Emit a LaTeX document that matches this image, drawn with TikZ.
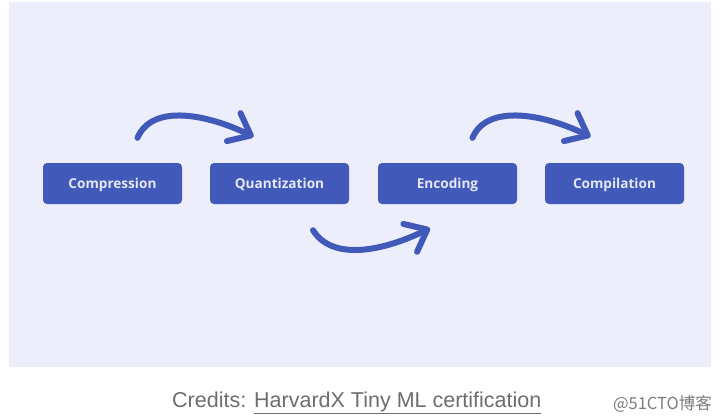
\documentclass[tikz,border=0pt]{standalone}
\usepackage{fontspec}
\setmainfont{Open Sans}
\newfontfamily\capfont{Liberation Sans}
\newfontfamily\cjk{Noto Sans CJK SC}
\usetikzlibrary{arrows.meta}
\definecolor{panelbg}{HTML}{ECEEFB}
\definecolor{stageblue}{HTML}{4159B8}
\definecolor{creditgray}{HTML}{6E6E6E}

\begin{document}
\begin{tikzpicture}[x=1pt,y=-1pt,
    stage/.style={fill=stageblue,rounded corners=4pt,minimum width=139pt,minimum height=41pt,
        text height=10pt,text depth=0pt,
        text=white!86!stageblue,font=\bfseries\fontsize{13.6}{15}\selectfont},
    flow/.style={draw=stageblue,line width=6pt,line cap=round,
        -{Straight Barb[length=19pt,width=31pt,round]}}]
        \useasboundingbox (0,0) rectangle (720,420);
        \fill[white] (0,0) rectangle (720,420);
        \fill[panelbg] (9,2) rectangle (711,367);
        \node[stage] (comp) at (112.5,183.5) {Compression};
        \node[stage] (quant) at (279.5,183.5) {Quantization};
        \node[stage] (enc) at (447.5,183.5) {Encoding};
        \node[stage] (compil) at (614.5,183.5) {Compilation};
        \coordinate (s1) at ([shift={(25,-25)}]comp.north);
        \coordinate (e1) at ([shift={(-26,-26)}]quant.north);
        \coordinate (s2) at ([shift={(33.5,26)}]quant.south);
        \coordinate (e2) at ([shift={(-17.5,24)}]enc.south);
        \coordinate (s3) at ([shift={(25,-25)}]enc.north);
        \coordinate (e3) at ([shift={(-24,-26)}]compil.north);
        \draw[flow] (s1) .. controls +(15,-35) and +(-45,-22) .. (e1);
        \draw[flow] (s2) .. controls +(20,32) and +(-45,22) .. (e2);
        \draw[flow] (s3) .. controls +(15,-35) and +(-45,-22) .. (e3);
        \node[anchor=base west,inner sep=0pt,text=creditgray,font=\capfont\fontsize{21.5}{24}\selectfont]
            (credit) at (172,407) {Credits: \underline{HarvardX Tiny ML certification}};
        \node[anchor=east,inner sep=0pt,text=creditgray!90,font=\cjk\fontsize{16.5}{18}\selectfont]
            (mark) at (712,404) {@51CTO博客};
\end{tikzpicture}
\end{document}
